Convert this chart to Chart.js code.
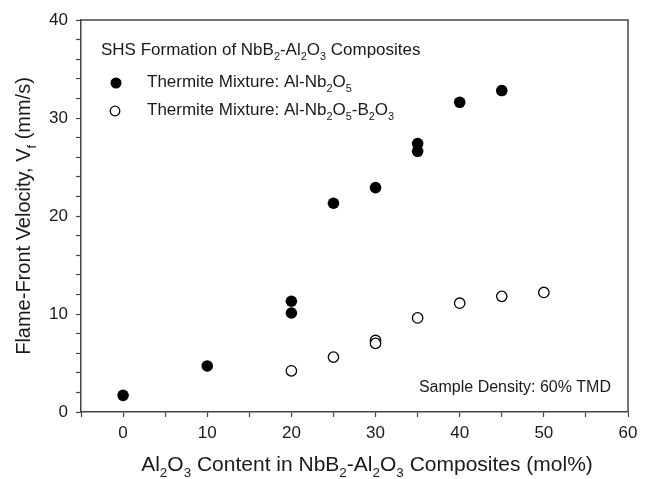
<!DOCTYPE html>
<html>
<head>
<meta charset="utf-8">
<script src="https://cdn.jsdelivr.net/npm/chart.js@4.4.1/dist/chart.umd.min.js"></script>
<style>
  html, body { margin: 0; padding: 0; background: #fff; }
  #wrap { width: 657px; height: 479px; }
</style>
</head>
<body>
<div id="wrap"><canvas id="scatterChart"></canvas></div>
<script>
// Al2O3 content (mol%) and flame-front velocity (mm/s)
const alNbX = [0, 10, 20, 20, 25, 30, 35, 35, 40, 45];
const alNbY = [1.7, 4.7, 11.3, 10.1, 21.3, 22.9, 27.4, 26.6, 31.6, 32.8];
const alNbBX = [20, 25, 30, 30, 35, 40, 45, 50];
const alNbBY = [4.2, 5.6, 7.3, 7.0, 9.6, 11.1, 11.8, 12.2];

const xTicks = [0, 10, 20, 30, 40, 50, 60];
const yTicks = [0, 10, 20, 30, 40];

const FONT = 'Arial, "Liberation Sans", sans-serif';
const TXT = '#1a1a1a';

// draw text where {n} is a subscript
function richText(ctx, str, x, y, size, align) {
  const parts = str.split(/(\{[^}]*\})/).filter(p => p.length);
  const segs = parts.map(p => p[0] === '{'
    ? { t: p.slice(1, -1), sub: true } : { t: p, sub: false });
  let total = 0;
  segs.forEach(s => {
    ctx.font = (s.sub ? size * 0.64 : size) + 'px ' + FONT;
    s.w = ctx.measureText(s.t).width;
    total += s.w;
  });
  let cx = x;
  if (align === 'center') cx = x - total / 2;
  if (align === 'right') cx = x - total;
  ctx.textAlign = 'left';
  ctx.textBaseline = 'alphabetic';
  segs.forEach(s => {
    ctx.font = (s.sub ? size * 0.64 : size) + 'px ' + FONT;
    ctx.fillText(s.t, cx, s.sub ? y + size * 0.28 : y);
    cx += s.w;
  });
}

const annotations = {
  id: 'annotations',
  afterDraw(chart) {
    const { ctx, chartArea: a } = chart;
    ctx.save();
    // frame top & right
    ctx.strokeStyle = '#444';
    ctx.lineWidth = 1.5;
    ctx.beginPath();
    ctx.moveTo(a.left, a.top);
    ctx.lineTo(a.right, a.top);
    ctx.lineTo(a.right, a.bottom);
    ctx.stroke();

    ctx.fillStyle = TXT;
    richText(ctx, 'SHS Formation of NbB{2}-Al{2}O{3} Composites', 101, 55, 17, 'left');
    richText(ctx, 'Thermite Mixture: Al-Nb{2}O{5}', 147, 87, 17, 'left');
    richText(ctx, 'Thermite Mixture: Al-Nb{2}O{5}-B{2}O{3}', 147, 115, 17, 'left');
    richText(ctx, 'Sample Density: 60% TMD', 611, 392, 16, 'right');

    // legend symbols
    ctx.beginPath();
    ctx.arc(116, 83, 5.5, 0, Math.PI * 2);
    ctx.fillStyle = '#000';
    ctx.fill();
    ctx.beginPath();
    ctx.arc(115, 111, 4.8, 0, Math.PI * 2);
    ctx.lineWidth = 1.3;
    ctx.strokeStyle = '#000';
    ctx.stroke();

    // axis titles
    ctx.fillStyle = TXT;
    richText(ctx, 'Al{2}O{3} Content in NbB{2}-Al{2}O{3} Composites (mol%)', 367, 471, 21, 'center');
    ctx.translate(30, 216);
    ctx.rotate(-Math.PI / 2);
    richText(ctx, 'Flame-Front Velocity, V{f} (mm/s)', 0, 0, 20, 'center');
    ctx.restore();
  }
};

const ctx = document.getElementById('scatterChart');
new Chart(ctx, {
  type: 'scatter',
  data: {
    datasets: [{
      label: 'Thermite Mixture: Al-Nb2O5',
      data: alNbX.map((x, i) => ({ x, y: alNbY[i] })),
      backgroundColor: '#000',
      borderColor: '#000',
      pointRadius: 5.8,
      pointBorderWidth: 0,
    }, {
      label: 'Thermite Mixture: Al-Nb2O5-B2O3',
      data: alNbBX.map((x, i) => ({ x, y: alNbBY[i] })),
      backgroundColor: '#fff',
      borderColor: '#000',
      pointRadius: 5.2,
      pointBorderWidth: 1.3,
    }],
  },
  options: {
    responsive: true,
    maintainAspectRatio: false,
    animation: false,
    layout: { padding: { top: 20, right: 29, left: 0, bottom: 0 } },
    plugins: { legend: { display: false }, tooltip: { enabled: false } },
    scales: {
      x: {
        type: 'linear',
        min: -5,
        max: 60,
        afterFit: s => { s.height = 67; },
        afterBuildTicks: s => {
          s.ticks = [];
          for (let v = -5; v <= 60; v += 5) s.ticks.push({ value: v });
        },
        ticks: {
          autoSkip: false,
          maxRotation: 0,
          padding: 6,
          color: TXT,
          font: { family: FONT, size: 17 },
          callback: v => (xTicks.includes(v) ? v : ''),
        },
        grid: { drawOnChartArea: false, tickLength: 5, tickColor: '#444', tickWidth: 1.2 },
        border: { color: '#444', width: 1.5 },
      },
      y: {
        type: 'linear',
        min: 0,
        max: 40,
        afterFit: s => { s.width = 81; },
        afterBuildTicks: s => {
          s.ticks = [];
          for (let v = 0; v <= 40; v += 2) s.ticks.push({ value: v });
        },
        ticks: {
          autoSkip: false,
          padding: 8,
          color: TXT,
          font: { family: FONT, size: 17 },
          callback: v => (yTicks.includes(v) ? v : ''),
        },
        grid: { drawOnChartArea: false, tickLength: 5, tickColor: '#444', tickWidth: 1.2 },
        border: { color: '#444', width: 1.5 },
      },
    },
  },
  plugins: [annotations],
});
</script>
</body>
</html>
